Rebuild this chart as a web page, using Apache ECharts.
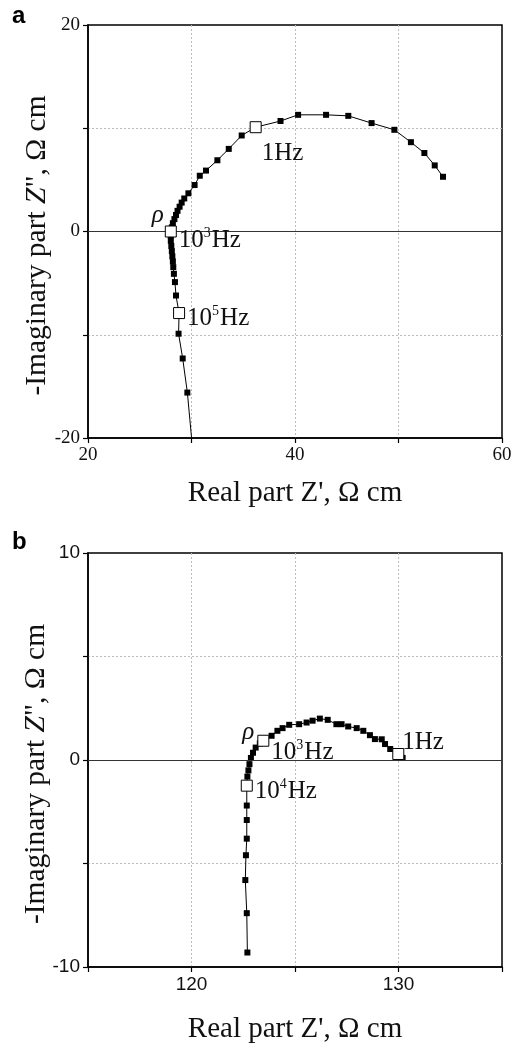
<!DOCTYPE html>
<html>
<head>
<meta charset="utf-8">
<script src="https://cdn.jsdelivr.net/npm/echarts@6/dist/echarts.min.js"></script>
<style>
  html, body { margin: 0; padding: 0; background: #fff; }
  #chart { width: 517px; height: 1045px; }
</style>
</head>
<body>
<div id="chart"></div>
<script>
// panel a : Nyquist data, high frequency -> low frequency
const aRe = [30.1, 29.6, 29.15, 28.75, 28.8, 28.5, 28.4, 28.3, 28.24, 28.2, 28.15, 28.1, 28.05, 28.0, 28.0, 28.0,
  28.1, 28.2, 28.35, 28.5, 28.65, 28.85, 29.05, 29.3, 29.7, 30.3, 30.8, 31.4, 32.5, 33.6, 34.85, 36.2,
  38.6, 40.3, 43.0, 45.15, 47.4, 49.6, 51.2, 52.5, 53.5, 54.3];
const aIm = [-21, -15.6, -12.3, -9.9, -7.9, -6.2, -4.9, -4.1, -3.45, -2.9, -2.4, -1.9, -1.4, -0.9, -0.4, 0,
  0.4, 0.8, 1.2, 1.6, 2.0, 2.4, 2.8, 3.2, 3.7, 4.5, 5.4, 5.9, 6.9, 8.0, 9.3, 10.1,
  10.7, 11.3, 11.3, 11.2, 10.5, 9.85, 8.65, 7.6, 6.4, 5.3];
// marked frequencies (open squares) in panel a
const aMarkRe = [28.0, 28.8, 36.2];
const aMarkIm = [0, -7.9, 10.1];
const aMarkExp = ['3', '5', ''];

// panel b
const bRe = [122.7, 122.67, 122.6, 122.63, 122.67, 122.67, 122.67, 122.67, 122.7, 122.75, 122.8, 122.87, 122.97,
  123.1, 123.3, 123.47, 123.87, 124.15, 124.4, 124.72, 125.2, 125.56, 125.85, 126.2, 126.58, 127.0, 127.25,
  127.57, 127.98, 128.3, 128.62, 128.86, 129.19, 129.35, 129.6, 129.99, 130.2];
const bIm = [-9.3, -7.4, -5.8, -4.6, -3.8, -2.9, -2.2, -1.24, -0.8, -0.5, -0.2, 0.1, 0.35,
  0.6, 0.8, 0.93, 1.17, 1.41, 1.54, 1.70, 1.73, 1.81, 1.9, 2.0, 1.94, 1.73, 1.73,
  1.62, 1.54, 1.41, 1.2, 1.01, 1.0, 0.77, 0.53, 0.29, 0.1];
const bMarkRe = [123.47, 122.67, 129.99];
const bMarkIm = [0.93, -1.24, 0.29];
const bMarkExp = ['3', '4', ''];

const aXTicks = [20, 40, 60];
const aYTicks = [20, 0, -20];
const bXTicks = [120, 130];
const bYTicks = [10, 0, -10];

const serif = '"Liberation Serif", "Times New Roman", serif';
const sans = '"Liberation Sans", Arial, sans-serif';

function zip(xs, ys) { return xs.map((x, i) => [x, ys[i]]); }

const hzRich = {
  n: { fontFamily: serif, fontSize: 25, color: '#111', lineHeight: 28 },
  s: { fontFamily: serif, fontSize: 14, color: '#111', verticalAlign: 'top', lineHeight: 28, padding: [0, 1, 0, 0] }
};
function hzText(exp) {
  return exp ? '{n|10}{s|' + exp + '}{n|Hz}' : '{n|1Hz}';
}

// label offsets for the open squares
const aOffsets = [[-2, 9], [-2, 5], [-4, 26]];
const bOffsets = [[-2, 12], [-2, 6], [-6, -12]];

function marks(re, im, exps, offs) {
  return re.map((x, i) => ({
    value: [x, im[i]],
    label: { formatter: hzText(exps[i]), offset: offs[i] }
  }));
}

const gridLine = { show: true, showMinLine: false, showMaxLine: false, lineStyle: { color: '#bbb', type: [2, 2], width: 1 } };

function xAxisOf(idx, min, max, ticks, font, name, gap) {
  return {
    gridIndex: idx, type: 'value', min: min, max: max, interval: (max - min) / 4,
    axisLine: { show: true, onZero: false, lineStyle: { color: '#000', width: 1.5 } },
    axisTick: { show: true, length: 5, lineStyle: { color: '#000', width: 1.2 } },
    axisLabel: {
      color: '#111', fontFamily: font, fontSize: 19, margin: 8, showMaxLabel: true, showMinLabel: true,
      formatter: v => ticks.indexOf(v) >= 0 ? String(v) : ''
    },
    splitLine: gridLine,
    name: name, nameLocation: 'middle', nameGap: gap, nameMoveOverlap: false,
    nameTextStyle: { fontFamily: serif, fontSize: 29, color: '#111' }
  };
}
function yAxisOf(idx, min, max, ticks, font, gap) {
  return {
    gridIndex: idx, type: 'value', min: min, max: max, interval: (max - min) / 4,
    axisLine: { show: true, onZero: false, lineStyle: { color: '#000', width: 1.5 } },
    axisTick: { show: true, length: 5, lineStyle: { color: '#000', width: 1.2 } },
    axisLabel: {
      color: '#111', fontFamily: font, fontSize: 19, margin: 8,
      formatter: v => ticks.indexOf(v) >= 0 ? String(v) : ''
    },
    splitLine: gridLine,
    name: '{t|-Imaginary part }{i|Z}{t|", Ω cm}', nameLocation: 'middle', nameGap: gap, nameRotate: 90,
    nameMoveOverlap: false,
    nameTextStyle: {
      padding: [0, 28, 0, 0],
      rich: {
        t: { fontFamily: serif, fontSize: 29.5, color: '#111' },
        i: { fontFamily: serif, fontSize: 29.5, color: '#111', fontStyle: 'italic' }
      }
    }
  };
}

function curve(idx, data) {
  return {
    type: 'line', xAxisIndex: idx, yAxisIndex: idx, data: data, clip: true,
    symbol: 'rect', symbolSize: 6, showAllSymbol: true,
    itemStyle: { color: '#000' }, lineStyle: { color: '#000', width: 1 },
    markLine: {
      silent: true, symbol: 'none', label: { show: false },
      lineStyle: { color: '#333', width: 1, type: 'solid' },
      data: [{ yAxis: 0 }]
    },
    z: 3
  };
}
function openSquares(idx, data) {
  return {
    type: 'scatter', xAxisIndex: idx, yAxisIndex: idx, data: data,
    symbol: 'rect', symbolSize: 11,
    itemStyle: { color: '#fff', borderColor: '#000', borderWidth: 1, opacity: 1 },
    label: { show: true, position: 'right', distance: 4, rich: hzRich },
    z: 5
  };
}
function rhoLabel(idx, x, y, off) {
  return {
    type: 'scatter', xAxisIndex: idx, yAxisIndex: idx, data: [[x, y]],
    symbolSize: 0, silent: true, itemStyle: { opacity: 1 },
    label: {
      show: true, position: 'left', formatter: 'ρ', offset: off,
      fontFamily: serif, fontSize: 25, fontStyle: 'italic', color: '#111'
    },
    z: 6
  };
}

const chart = echarts.init(document.getElementById('chart'), null, { renderer: 'canvas' });
chart.setOption({
  animation: false,
  backgroundColor: '#fff',
  grid: [
    { left: 88, top: 25, width: 414, height: 413, show: true, borderColor: '#000', borderWidth: 1.5 },
    { left: 88, top: 553, width: 414, height: 415, show: true, borderColor: '#000', borderWidth: 1.5 }
  ],
  xAxis: [
    xAxisOf(0, 20, 60, aXTicks, serif, "Real part Z', Ω cm", 41),
    xAxisOf(1, 115, 135, bXTicks, sans, "Real part Z', Ω cm", 48)
  ],
  yAxis: [
    yAxisOf(0, -20, 20, aYTicks, serif, 36),
    yAxisOf(1, -10, 10, bYTicks, sans, 37)
  ],
  series: [
    curve(0, zip(aRe, aIm)),
    openSquares(0, marks(aMarkRe, aMarkIm, aMarkExp, aOffsets)),
    rhoLabel(0, aMarkRe[0], aMarkIm[0], [-2, -16]),
    curve(1, zip(bRe, bIm)),
    openSquares(1, marks(bMarkRe, bMarkIm, bMarkExp, bOffsets)),
    rhoLabel(1, bMarkRe[0], bMarkIm[0], [-4, -8])
  ],
  graphic: [
    { type: 'text', left: 12, top: 4, style: { text: 'a', font: 'bold 24px ' + sans, fill: '#000' } },
    { type: 'text', left: 12, top: 530, style: { text: 'b', font: 'bold 24px ' + sans, fill: '#000' } }
  ]
});
</script>
</body>
</html>
